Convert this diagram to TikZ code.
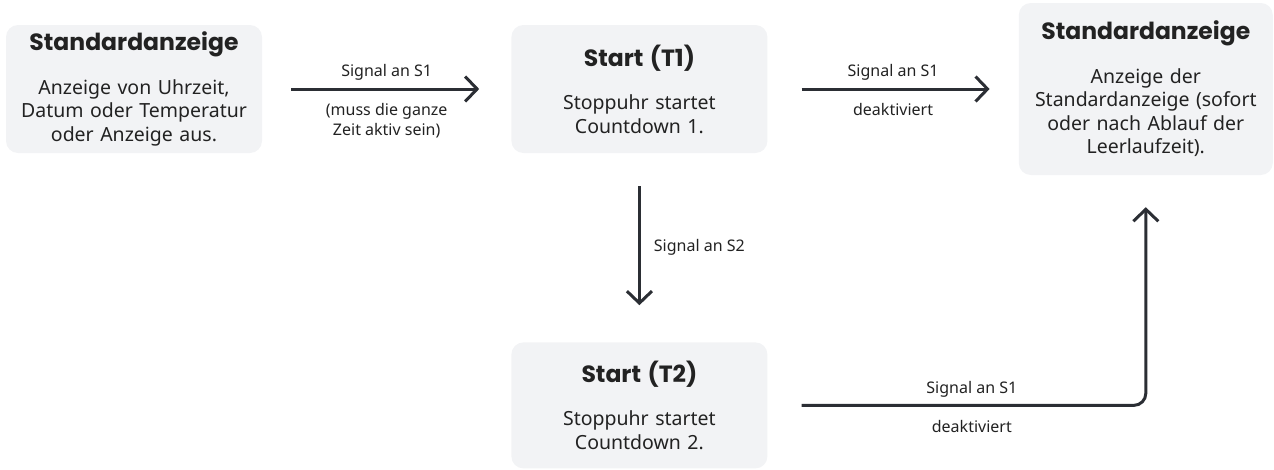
\documentclass[tikz,border=0pt]{standalone}
\usepackage{fontspec}
\setmainfont{Noto Sans}
\newfontfamily\headfont{Poppins}
\usepackage{xcolor}
\usetikzlibrary{positioning, arrows.meta}
\definecolor{panelgray}{HTML}{F2F3F5}
\definecolor{inkdark}{HTML}{2B2E34}
\definecolor{txtdark}{HTML}{222222}
\newcommand{\paneltitle}[1]{{\headfont\bfseries\fontsize{23.5}{27}\selectfont #1}\\[20pt]}
\tikzstyle{panel} = [rectangle, rounded corners=12pt, fill=panelgray, draw=none, text width=256pt, inner sep=0pt, align=center, text=txtdark, font=\fontsize{19.5}{23.5}\selectfont, minimum height=128pt]
\tikzstyle{arrow} = [line width=3pt, -{Straight Barb[length=12pt,width=25pt]}, draw=inkdark]
\tikzstyle{lbl} = [font=\fontsize{16}{20}\selectfont, text=txtdark, inner sep=0pt, align=center]

\begin{document}
\begin{tikzpicture}[x=1pt, y=-1pt, node distance=249pt]
  \useasboundingbox (0,0) rectangle (1274,469);
  \node (std1) [panel] at (134,89) {\paneltitle{Standardanzeige}Anzeige von Uhrzeit,\\Datum oder Temperatur\\oder Anzeige aus.};
  \node (t1) [panel, right=of std1] {\paneltitle{Start (T1)}Stoppuhr startet\\Countdown 1.};
  \node (std2) [panel, minimum height=172pt, text width=254pt, right=251pt of t1] {\paneltitle{Standardanzeige}Anzeige der\\Standardanzeige (sofort\\oder nach Ablauf der\\Leerlaufzeit).};
  \node (t2) [panel, minimum height=126pt, below=189pt of t1] {\paneltitle{Start (T2)}Stoppuhr startet\\Countdown 2.};

  \draw[arrow, shorten <=29pt, shorten >=32pt] (std1) -- node[lbl, above=7pt] {Signal an S1} node[lbl, below=13pt] {(muss die ganze\\Zeit aktiv sein)} (t1);
  \draw[arrow, shorten <=34pt, shorten >=29pt] (t1) -- node[lbl, above=7pt] {Signal an S1} node[lbl, below=13pt] {deaktiviert} (std2);
  \draw[arrow, shorten <=33pt, shorten >=37pt] (t1) -- node[lbl, right=13pt] {Signal an S2} (t2);
  \draw[arrow, rounded corners=12pt, shorten <=34pt, shorten >=32pt] (t2) -| node[lbl, pos=0.27, above=7pt] {Signal an S1} node[lbl, pos=0.27, below=13pt] {deaktiviert} (std2);
\end{tikzpicture}
\end{document}
